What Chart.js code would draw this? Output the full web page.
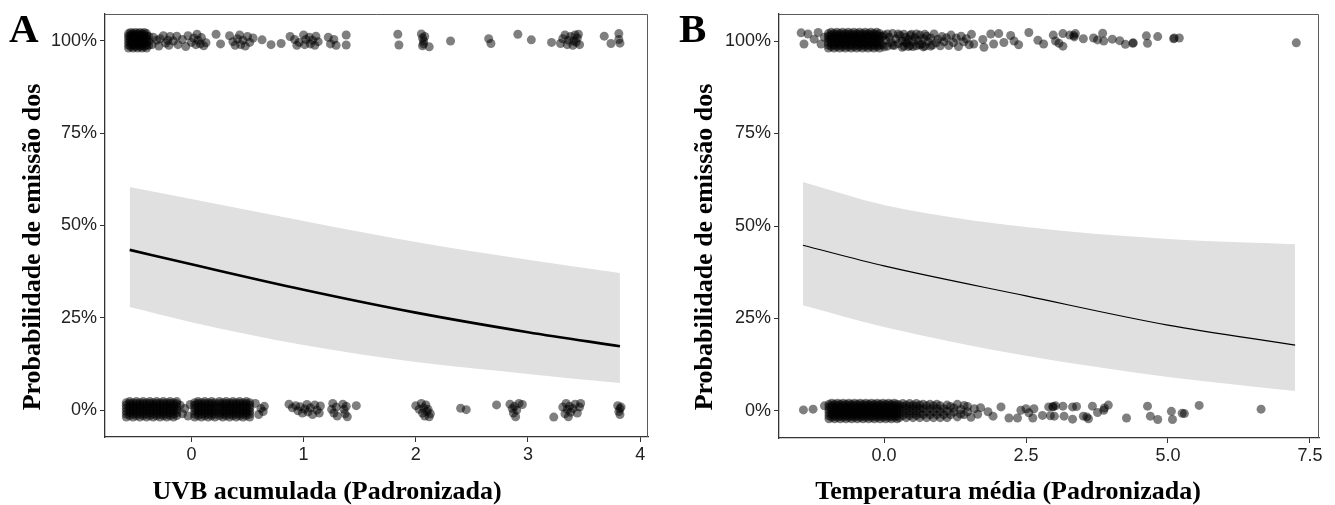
<!DOCTYPE html>
<html>
<head>
<meta charset="utf-8">
<script src="https://cdn.jsdelivr.net/npm/chart.js@4.4.0/dist/chart.umd.min.js"></script>
<style>
  body { margin: 0; background: #fff; width: 1335px; height: 505px; overflow: hidden; position: relative; }
  canvas { position: absolute; top: 0; }
  #chartA { left: 0; }
  #chartB { left: 667px; }
</style>
</head>
<body>
<canvas id="chartA" width="667" height="505"></canvas>
<canvas id="chartB" width="668" height="505"></canvas>
<script>
// ---- data ----
const yTicks = [0, 25, 50, 75, 100];
const xTicksA = [0, 1, 2, 3, 4];
const xTicksB = [0, 2.5, 5, 7.5];

// panel A: UVB acumulada
const fitXA = [-0.55, 0, 1, 2, 3, 3.82];
const fitA = [43.4, 39.5, 32.6, 26.4, 21.1, 17.3];
const upperA = [60.4, 57.2, 51.2, 45.5, 40.7, 37.1];
const lowerA = [27.9, 23.8, 17.6, 13.0, 9.8, 7.3];

// panel B: Temperatura media
const fitXB = [-1.43, 0, 2.5, 5, 7.24];
const fitB = [44.8, 39.2, 31.1, 23.2, 17.8];
const upperB = [61.9, 55.7, 49.7, 46.5, 45.1];
const lowerB = [28.6, 22.7, 14.9, 9.2, 5.4];

// jittered observations: [x, y%, y%, ...] (several points at one x)
const obsA1 = [
  [-0.56,98.1,98.9,99.7,100.5,101.3,102.0],[-0.54,98.5,99.3,100.1,100.9,101.7,102.3],
  [-0.52,98.1,98.9,99.7,100.5,101.3,102.0],[-0.50,98.5,99.3,100.1,100.9,101.7,102.3],
  [-0.48,98.1,98.9,99.7,100.5,101.3,102.0],[-0.46,98.5,99.3,100.1,100.9,101.7,102.3],
  [-0.44,98.1,98.9,99.7,100.5,101.3,102.0],[-0.42,98.5,99.3,100.1,100.9,101.7,102.3],
  [-0.40,98.1,98.9,99.7,100.5,101.3,102.0],[-0.38,98.8,100.0,101.2],
  [-0.35,99.0],[-0.34,101.0],[-0.31,100.2],[-0.29,98.6],[-0.28,100.6],[-0.25,101.4],[-0.23,99.4],[-0.21,100.2],
  [-0.20,98.8],[-0.19,101.2],[-0.16,100.0],[-0.13,101.3],[-0.12,99.0],[-0.08,100.4],[-0.05,98.5],[-0.03,101.4],
  [0.00,99.6],[0.02,100.8],[0.04,99.0],[0.05,101.8],[0.06,100.2],[0.08,99.2],[0.09,100.9],[0.11,98.7],
  [0.13,99.5],[0.22,101.8],[0.26,99.2],[0.34,101.4],[0.37,99.8],[0.39,98.8],[0.41,100.6],[0.43,101.6],[0.44,99.0],
  [0.46,100.2],[0.48,98.6],[0.50,101.2],[0.52,99.6],[0.55,100.8],[0.63,100.3],[0.71,99.0],[0.80,99.3],[0.88,101.2],
  [0.92,100.4],[0.94,98.8],[0.96,99.6],[1.00,101.6],[1.01,99.0],[1.02,100.4],[1.05,101.0],[1.06,99.2],[1.08,100.2],
  [1.10,98.8],[1.11,101.3],[1.13,99.8],[1.22,101.0],[1.24,99.2],[1.27,100.4],[1.29,98.8],[1.38,101.6],[1.38,98.9],
  [1.84,101.8],[1.85,98.9],[2.05,101.9],[2.06,100.8,98.7],[2.07,100.0,99.2],[2.08,101.2],[2.12,98.4],
  [2.31,100.0],[2.65,100.6],[2.67,99.3],[2.91,101.8],[3.03,100.3],[3.21,99.6],[3.29,99.3],[3.31,100.6],[3.33,101.6],
  [3.35,99.0],[3.36,100.2],[3.38,101.2],[3.40,98.8],[3.41,100.0],[3.42,101.6],[3.43,99.6],[3.44,100.8],[3.45,101.8],
  [3.46,99.0],[3.68,101.3],[3.74,99.3],[3.81,102.0,100.4],[3.82,99.4]
];
const obsA0 = [
  [-0.58,-1.9,-1.1,-0.3,0.5,1.3,2.0],[-0.55,-1.5,-0.7,0.1,0.9,1.7,2.3],[-0.52,-1.9,-1.1,-0.3,0.5,1.3,2.0],
  [-0.49,-1.5,-0.7,0.1,0.9,1.7,2.3],[-0.46,-1.9,-1.1,-0.3,0.5,1.3,2.0],[-0.43,-1.5,-0.7,0.1,0.9,1.7,2.3],
  [-0.40,-1.9,-1.1,-0.3,0.5,1.3,2.0],[-0.37,-1.5,-0.7,0.1,0.9,1.7,2.3],[-0.34,-1.9,-1.1,-0.3,0.5,1.3,2.0],
  [-0.31,-1.5,-0.7,0.1,0.9,1.7,2.3],[-0.28,-1.9,-1.1,-0.3,0.5,1.3,2.0],[-0.25,-1.5,-0.7,0.1,0.9,1.7,2.3],
  [-0.22,-1.9,-1.1,-0.3,0.5,1.3,2.0],[-0.19,-1.5,-0.7,0.1,0.9,1.7,2.3],[-0.16,-1.9,-1.1,-0.3,0.5,1.3,2.0],
  [-0.13,-1.5,-0.7,0.1,0.9,1.7,2.3],
  [-0.10,1.3],[-0.08,-1.0],[-0.06,0.4],[-0.03,-1.6],[-0.01,1.5],
  [0.03,-1.9,-1.1,-0.3,0.5,1.3,2.0],[0.06,-1.5,-0.7,0.1,0.9,1.7,2.3],[0.09,-1.9,-1.1,-0.3,0.5,1.3,2.0],
  [0.12,-1.5,-0.7,0.1,0.9,1.7,2.3],[0.15,-1.9,-1.1,-0.3,0.5,1.3,2.0],[0.18,-1.5,-0.7,0.1,0.9,1.7,2.3],
  [0.21,-1.9,-1.1,-0.3,0.5,1.3,2.0],
  [0.25,-1.5,-0.7,0.1,0.9,1.7,2.3],[0.28,-1.9,-1.1,-0.3,0.5,1.3,2.0],[0.31,-1.5,-0.7,0.1,0.9,1.7,2.3],
  [0.34,-1.9,-1.1,-0.3,0.5,1.3,2.0],[0.37,-1.5,-0.7,0.1,0.9,1.7,2.3],[0.40,-1.9,-1.1,-0.3,0.5,1.3,2.0],
  [0.43,-1.5,-0.7,0.1,0.9,1.7,2.3],[0.46,-1.9,-1.1,-0.3,0.5,1.3,2.0],[0.49,-1.5,-0.7,0.1,0.9,1.7,2.3],
  [0.52,-1.9,-1.1,-0.3,0.5,1.3,2.0],
  [0.57,1.8],[0.60,-1.2],[0.62,0.4],[0.64,-0.4],[0.65,1.0],
  [0.87,1.6],[0.90,0.6],[0.93,1.2],[0.95,-0.2],[0.97,0.9],[0.99,-0.8],[1.01,0.3],[1.03,1.5],[1.04,-0.5],
  [1.06,0.6],[1.08,-1.2],[1.10,1.4],[1.12,0.0],[1.14,-0.8],[1.15,1.1],
  [1.25,0.2],[1.26,1.8],[1.27,-0.8],[1.29,0.8],[1.30,-1.6],[1.35,1.6],[1.36,0.2],[1.37,-1.0],[1.38,1.0],
  [1.39,-1.8],[1.47,1.2],
  [2.00,1.2],[2.03,0.2],[2.05,1.8],[2.06,-0.8],[2.07,0.6],[2.08,-1.6],[2.09,1.4],[2.10,-0.4],[2.11,0.2],
  [2.12,-1.8],[2.13,-1.0],[2.40,0.5],[2.45,0.1],[2.72,1.4],
  [2.84,1.6],[2.86,0.4],[2.87,-0.8],[2.88,1.0],[2.89,-1.8],[2.90,0.0],[2.92,1.8],[2.95,1.5],[3.23,-1.9],
  [3.31,0.8],[3.33,-1.0],[3.34,1.8],[3.35,0.2],[3.36,-1.8],[3.37,1.0],[3.38,-0.6],[3.40,0.4],[3.42,1.6],
  [3.44,-0.8],[3.46,0.8],[3.47,1.8],
  [3.80,1.2],[3.81,-0.4],[3.82,0.4,-1.2],[3.83,0.8]
];
const obsB1 = [
  [-1.46,102.2],[-1.41,99.2],[-1.34,101.9],[-1.23,100.5],[-1.16,102.3],[-1.11,99.2],[-1.05,101.0],
  [-0.98,98.1,98.9,99.7,100.5,101.3,102.0],[-0.93,98.5,99.3,100.1,100.9,101.7,102.4],
  [-0.88,98.1,98.9,99.7,100.5,101.3,102.0],[-0.83,98.5,99.3,100.1,100.9,101.7,102.4],
  [-0.78,98.1,98.9,99.7,100.5,101.3,102.0],[-0.73,98.5,99.3,100.1,100.9,101.7,102.4],
  [-0.68,98.1,98.9,99.7,100.5,101.3,102.0],[-0.63,98.5,99.3,100.1,100.9,101.7,102.4],
  [-0.58,98.1,98.9,99.7,100.5,101.3,102.0],[-0.53,98.5,99.3,100.1,100.9,101.7,102.4],
  [-0.48,98.1,98.9,99.7,100.5,101.3,102.0],[-0.43,98.5,99.3,100.1,100.9,101.7,102.4],
  [-0.38,98.1,98.9,99.7,100.5,101.3,102.0],[-0.33,98.5,99.3,100.1,100.9,101.7,102.4],
  [-0.28,98.1,98.9,99.7,100.5,101.3,102.0],[-0.23,98.5,99.3,100.1,100.9,101.7,102.4],
  [-0.18,98.1,98.9,99.7,100.5,101.3,102.0],[-0.13,98.5,99.3,100.1,100.9,101.7,102.4],
  [-0.08,98.1,98.9,99.7,100.5,101.3,102.0],
  [-0.03,99.0,101.2],[0.00,101.6,98.4],[0.03,100.2],[0.06,98.6,101.9],[0.09,101.0],[0.12,99.6],[0.15,102.0,98.9],
  [0.18,98.8],[0.21,100.6],[0.25,99.3,101.9],[0.28,101.5],[0.32,100.0,98.3],[0.35,98.6,101.8],[0.38,101.0,99.8],
  [0.40,99.4],[0.43,100.4,98.5],[0.46,98.8,101.5],[0.48,101.8],[0.51,99.8,98.5],[0.54,100.9],[0.57,98.7,101.9],
  [0.60,100.2],[0.63,101.6,99.0],[0.66,99.2],[0.69,100.6,98.4],[0.72,98.6,101.8],[0.75,101.3],[0.78,99.8],
  [0.82,100.8,98.6],[0.85,98.9],[0.88,101.9],[0.92,99.5],[0.95,100.5],[0.99,98.7],[1.02,101.2],[1.06,99.8],
  [1.10,100.9],[1.14,98.8],[1.18,101.6],
  [1.22,99.6],[1.27,100.8],[1.31,98.5],[1.36,101.3],[1.40,99.8],[1.45,100.6],[1.50,99.0],[1.54,101.8],
  [1.58,99.2],[1.74,100.4],[1.76,98.3],[1.88,101.9],[1.93,99.2],[2.02,102.0],[2.11,99.6],[2.23,101.5],[2.29,100.0],
  [2.37,99.0],[2.55,102.3],[2.71,100.2],[2.81,99.2],[2.98,101.6],
  [3.02,100.0],[3.08,99.4],[3.15,102.0,98.6],[3.27,101.6],[3.34,101.5],[3.35,101.1],[3.37,102.0],[3.51,100.6],
  [3.69,100.8],[3.76,100.3],[3.85,102.1],[3.87,100.0],[4.02,100.5],[4.15,100.1],[4.25,99.1],[4.38,99.4],[4.39,99.5],
  [4.62,101.4],[4.64,99.4],[4.82,101.2],[5.10,100.6],[5.11,100.8],[5.20,100.8],[7.26,99.5]
];
const obsB0 = [
  [-1.42,0.3],[-1.25,0.5],[-1.05,1.4],
  [-0.97,-2.1,-1.3,-0.5,0.3,1.1,1.8],[-0.92,-1.7,-0.9,-0.1,0.7,1.5,2.1],[-0.87,-2.1,-1.3,-0.5,0.3,1.1,1.8],
  [-0.82,-1.7,-0.9,-0.1,0.7,1.5,2.1],[-0.77,-2.1,-1.3,-0.5,0.3,1.1,1.8],[-0.72,-1.7,-0.9,-0.1,0.7,1.5,2.1],
  [-0.67,-2.1,-1.3,-0.5,0.3,1.1,1.8],[-0.62,-1.7,-0.9,-0.1,0.7,1.5,2.1],[-0.57,-2.1,-1.3,-0.5,0.3,1.1,1.8],
  [-0.52,-1.7,-0.9,-0.1,0.7,1.5,2.1],[-0.47,-2.1,-1.3,-0.5,0.3,1.1,1.8],[-0.42,-1.7,-0.9,-0.1,0.7,1.5,2.1],
  [-0.37,-2.1,-1.3,-0.5,0.3,1.1,1.8],[-0.32,-1.7,-0.9,-0.1,0.7,1.5,2.1],[-0.27,-2.1,-1.3,-0.5,0.3,1.1,1.8],
  [-0.22,-1.7,-0.9,-0.1,0.7,1.5,2.1],[-0.17,-2.1,-1.3,-0.5,0.3,1.1,1.8],[-0.12,-1.7,-0.9,-0.1,0.7,1.5,2.1],
  [-0.07,-2.1,-1.3,-0.5,0.3,1.1,1.8],[-0.02,-1.7,-0.9,-0.1,0.7,1.5,2.1],[0.03,-2.1,-1.3,-0.5,0.3,1.1,1.8],
  [0.08,-1.7,-0.9,-0.1,0.7,1.5,2.1],[0.13,-2.1,-1.3,-0.5,0.3,1.1,1.8],[0.18,-1.7,-0.9,-0.1,0.7,1.5,2.1],
  [0.23,-2.1,-1.3,-0.5,0.3,1.1,1.8],
  [0.27,-1.8,-0.6,0.6,1.6],[0.33,-1.2,0.0,1.2,2.0],[0.39,-1.8,-0.6,0.6,1.6],[0.45,-1.2,0.0,1.2,2.0],
  [0.51,-1.8,-0.6,0.6,1.6],[0.57,-1.2,0.0,1.2,2.0],[0.63,-1.8,-0.6,0.6,1.6],[0.69,-1.0,0.6,1.8],
  [0.75,-1.8,-0.2,1.4],[0.81,-1.0,0.6,1.8],[0.87,-1.8,-0.2,1.4],[0.93,-1.0,0.6,1.8],[0.99,-1.8,-0.2,1.4],
  [1.05,-1.0,0.6],[1.11,-1.8,0.0,1.6],
  [1.17,-1.0,1.2],[1.23,-0.3,0.8],[1.29,-1.6,1.8],[1.35,0.4,-0.8],[1.41,-1.0,1.5],[1.47,-0.2,1.2],[1.53,-1.7],
  [1.59,0.6],[1.65,-0.9],
  [1.70,0.9],[1.83,-0.2],[1.92,-1.4],[2.06,1.1],
  [2.20,-1.9],[2.35,-1.9],[2.41,0.2],[2.50,0.6],[2.55,-0.5],[2.64,0.6],[2.62,-1.9],[2.79,-1.2],[2.90,1.1],[2.93,-1.3],
  [2.97,1.1],[2.98,1.2],[3.02,1.4],[3.00,-1.4],[3.15,1.3],[3.17,-1.4],[3.32,-2.2,1.1],[3.39,1.2],[3.51,-1.4],
  [3.57,-1.6],[3.60,-2.1],[3.67,1.3],[3.76,-0.4],[3.87,0.2],[3.88,0.8],[3.95,1.6],[4.27,-1.9],[4.64,1.3],[4.69,-1.4],
  [4.82,-2.3],[5.06,-0.1],[5.08,-2.3],[5.25,-0.6],[5.29,-0.7],[5.55,1.5],[6.64,0.5]
];

// ---- drawing ----
const SERIF = '"Liberation Serif", "Times New Roman", serif';
const SANS = '"Liberation Sans", Arial, sans-serif';

const pairs = (xs, ys) => xs.map((x, i) => ({ x: x, y: ys[i] }));
const pts = arr => arr.flatMap(p => p.slice(1).map(y => ({ x: p[0], y: y })));

// frame on top/right, axis titles and panel letter
const decor = {
  id: 'decor',
  afterDraw(chart, args, o) {
    const { ctx, chartArea: a } = chart;
    ctx.save();
    ctx.strokeStyle = '#5a5a5a';
    ctx.lineWidth = 1;
    ctx.beginPath();
    ctx.moveTo(a.left, a.top + 0.5);
    ctx.lineTo(a.right - 0.5, a.top + 0.5);
    ctx.lineTo(a.right - 0.5, a.bottom);
    ctx.stroke();

    ctx.fillStyle = '#000';
    ctx.font = 'bold 41px ' + SERIF;
    ctx.textAlign = 'left';
    ctx.textBaseline = 'alphabetic';
    ctx.fillText(o.letter, o.letterX, 42);

    ctx.font = 'bold 26px ' + SERIF;
    ctx.textAlign = 'center';
    ctx.fillText(o.xTitle, o.xTitleX, 499);

    ctx.save();
    ctx.translate(o.yTitleX, 247);
    ctx.rotate(-Math.PI / 2);
    ctx.fillText('Probabilidade de emissão dos', 0, 0);
    ctx.restore();
    ctx.restore();
  }
};

function makeChart(id, cfg) {
  const ctx = document.getElementById(id).getContext('2d');
  const dot = { backgroundColor: 'rgba(0,0,0,0.5)', borderWidth: 0, pointRadius: 4.5, pointHoverRadius: 4.5, order: 1 };
  return new Chart(ctx, {
    type: 'scatter',
    data: {
      datasets: [
        { data: pairs(cfg.fitX, cfg.lower), showLine: true, borderWidth: 0, pointRadius: 0,
          cubicInterpolationMode: 'monotone', fill: false, order: 3 },
        { data: pairs(cfg.fitX, cfg.upper), showLine: true, borderWidth: 0, pointRadius: 0,
          cubicInterpolationMode: 'monotone', fill: '-1', backgroundColor: '#e0e0e0', order: 2 },
        { data: pairs(cfg.fitX, cfg.fit), showLine: true, borderColor: '#000', borderWidth: cfg.lineWidth,
          pointRadius: 0, cubicInterpolationMode: 'monotone', fill: false, order: 0 },
        Object.assign({ data: pts(cfg.obs1) }, dot),
        Object.assign({ data: pts(cfg.obs0) }, dot)
      ]
    },
    options: {
      responsive: false,
      animation: false,
      events: [],
      layout: { autoPadding: false, padding: { left: 0, right: cfg.padRight, top: 14, bottom: 0 } },
      plugins: { legend: { display: false }, tooltip: { enabled: false }, decor: cfg.decor },
      scales: {
        x: {
          type: 'linear', min: cfg.xMin, max: cfg.xMax,
          afterBuildTicks: s => { s.ticks = cfg.xTicks.map(v => ({ value: v })); },
          afterFit: s => { s.height = cfg.xAxisH; s.paddingLeft = 0; s.paddingRight = 0; },
          ticks: { callback: cfg.xFmt, color: '#222', font: { family: SANS, size: 18 }, padding: 2, maxRotation: 0 },
          grid: { drawOnChartArea: false, tickLength: 5, color: '#333' },
          border: { display: true, color: '#333', width: 1.3 }
        },
        y: {
          type: 'linear', min: -7.3, max: 107.3,
          afterBuildTicks: s => { s.ticks = yTicks.map(v => ({ value: v })); },
          afterFit: s => { s.width = cfg.yAxisW; s.paddingTop = 0; s.paddingBottom = 0; },
          ticks: { callback: v => v + '%', color: '#222', font: { family: SANS, size: 18 }, padding: 3 },
          grid: { drawOnChartArea: false, tickLength: 5, color: '#333' },
          border: { display: true, color: '#333', width: 1.3 }
        }
      }
    },
    plugins: [decor]
  });
}

makeChart('chartA', {
  fitX: fitXA, fit: fitA, upper: upperA, lower: lowerA, obs1: obsA1, obs0: obsA0,
  lineWidth: 2.6, xMin: -0.77, xMax: 4.07, xTicks: xTicksA, xFmt: v => String(v),
  padRight: 19, xAxisH: 68, yAxisW: 105,
  decor: { letter: 'A', letterX: 9, xTitle: 'UVB acumulada (Padronizada)', xTitleX: 327, yTitleX: 40 }
});

makeChart('chartB', {
  fitX: fitXB, fit: fitB, upper: upperB, lower: lowerB, obs1: obsB1, obs0: obsB0,
  lineWidth: 1.2, xMin: -1.85, xMax: 7.66, xTicks: xTicksB, xFmt: v => v.toFixed(1),
  padRight: 16, xAxisH: 67, yAxisW: 112,
  decor: { letter: 'B', letterX: 12, xTitle: 'Temperatura média (Padronizada)', xTitleX: 341, yTitleX: 45 }
});
</script>
</body>
</html>
